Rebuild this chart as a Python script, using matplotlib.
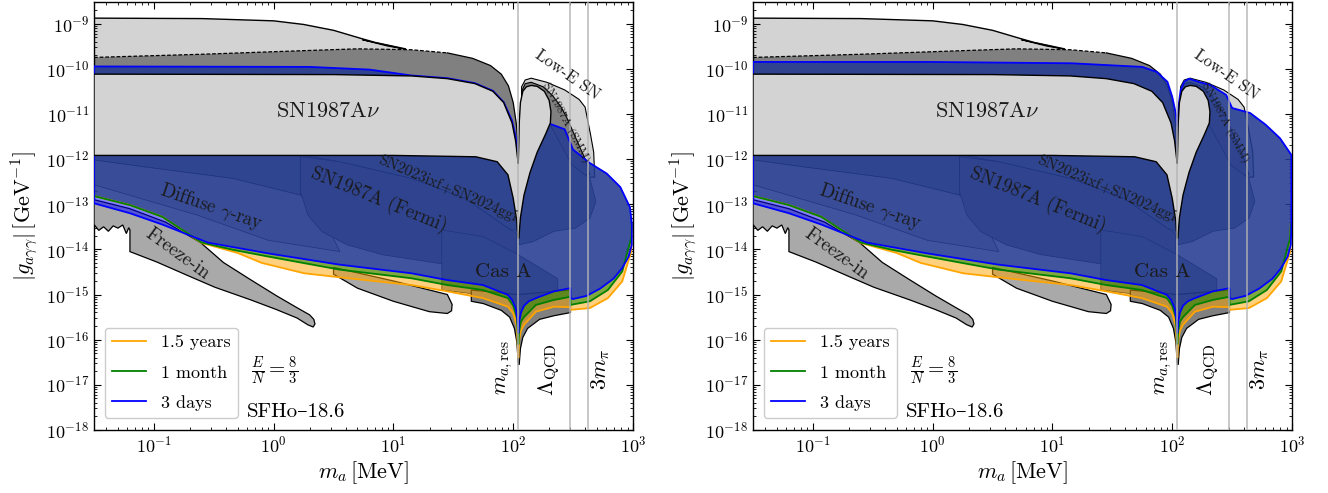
import numpy as np
import matplotlib
matplotlib.use("Agg")
import matplotlib.pyplot as plt
from matplotlib.patches import Polygon
from matplotlib.lines import Line2D
from matplotlib.ticker import LogLocator, NullFormatter

plt.rcParams.update({
    "mathtext.fontset": "cm",
    "font.family": ["cmr10", "DejaVu Serif"],
    "axes.formatter.use_mathtext": True,
    "axes.unicode_minus": False,
})

# ---------------- data (log10 m_a [MeV], log10 g [GeV^-1]) ----------------
# upper light-gray bound
top_lx = [-1.5, -0.6, 0.0, 0.25, 0.5, 0.73, 0.85, 1.1, 1.1, -1.5]
top_lg = [-8.88, -8.89, -8.94, -9.02, -9.15, -9.33, -9.42, -9.56, -10.0, -10.0]
sliver_lx = [0.74, 0.9, 1.1, 0.95]
sliver_lg = [-9.36, -9.45, -9.57, -9.5]

# dark-gray band above SN1987A nu
dg_lx = [-1.5, -0.6, 0.25, 0.7, 1.15, 1.45, 1.66, 1.81, 1.9, 1.96, 2.0, 2.025, 2.041]
dg_lg = [-9.75, -9.68, -9.6, -9.56, -9.58, -9.65, -9.77, -9.93, -10.12, -10.38, -10.75, -11.2, -11.7]

# SN1987A nu cooling region (with notch and right lobe)
sn_lx = [-1.5, 0.5, 1.15, 1.45, 1.68, 1.83, 1.92, 1.99, 2.02, 2.035, 2.042,
         2.046, 2.05, 2.06, 2.08, 2.11, 2.15, 2.2, 2.26, 2.3, 2.315, 2.31, 2.27, 2.2,
         2.14, 2.09, 2.06, 2.047,
         2.04, 2.03, 2.0, 1.956, 1.866, 1.687, 1.0, -1.5]
sn_lg = [-10.12, -10.13, -10.16, -10.22, -10.33, -10.5, -10.75, -11.2, -11.6, -11.95, -12.1,
         -11.7, -11.2, -10.75, -10.5, -10.4, -10.37, -10.39, -10.5, -10.7, -10.95, -11.2, -11.45, -11.85,
         -12.3, -12.8, -13.3, -13.75,
         -13.75, -13.38, -12.87, -12.35, -12.06, -11.95, -11.92, -11.92]

# Low-energy SN band
lowe_lx = [2.07, 2.1, 2.15, 2.28, 2.43, 2.55, 2.6, 2.615, 2.645, 2.672, 2.68, 2.3, 2.07]
lowe_lg = [-10.4, -10.25, -10.21, -10.3, -10.47, -10.68, -10.85, -11.05, -11.45, -11.85, -12.4, -12.4, -11.0]

# SN1987A (SMM) band
smm_lx = [2.07, 2.1, 2.15, 2.25, 2.33, 2.4, 2.45, 2.5, 2.55, 2.6, 2.64, 2.3, 2.07]
smm_lg = [-10.5, -10.33, -10.3, -10.4, -10.6, -10.85, -11.1, -11.4, -11.7, -12.0, -12.35, -12.4, -11.2]

# constraints lying underneath the projections
band_lx = [-1.5, 0.225, 0.225, -0.34, -1.09, -1.5]
band_lg = [-11.9, -11.9, -12.8, -12.43, -12.17, -12.02]

diffuse_lx = [-1.5, -1.09, -0.34, 0.225, 0.45, 0.553, -0.044, -0.64, -1.5]
diffuse_lg = [-12.02, -12.17, -12.43, -12.8, -13.5, -14.05, -13.8, -13.24, -12.57]

ixf_lx = [0.225, 2.0, 2.03, 1.956, 1.6, 1.15, 0.553]
ixf_lg = [-11.9, -11.9, -13.6, -13.53, -12.87, -12.43, -12.06]

fermi_lx = [0.225, 0.553, 1.15, 1.6, 1.956, 2.03, 2.03, 1.45, 0.91, 0.613, 0.404, 0.285, 0.225]
fermi_lg = [-11.95, -12.06, -12.43, -12.87, -13.53, -13.65, -14.5, -14.34, -14.12, -13.9, -13.61, -13.24, -12.72]

casa_lx = [1.404, 1.75, 2.03, 2.372, 2.372, 2.03, 1.404]
casa_lg = [-13.57, -13.72, -14.1, -14.65, -14.9, -15.1, -14.9]

lobe2_lx = [2.05, 2.3, 2.49, 2.64, 2.69, 2.64, 2.52, 2.34, 2.165, 2.05]
lobe2_lg = [-11.3, -11.2, -12.13, -12.43, -12.94, -13.31, -13.53, -13.6, -13.83, -13.9]

freeze_lx = [-1.5, -1.46, -1.42, -1.38, -1.34, -1.3, -1.26, -1.23, -1.21, -1.2, -1.2,
             -0.976, -0.7, -0.49, -0.19, 0.02, 0.195, 0.285, 0.33,
             0.345, 0.335, 0.3,
             0.2, 0.025, -0.2, -0.42, -0.61, -0.9, -1.2, -1.5]
freeze_lg = [-13.45, -13.58, -13.5, -13.6, -13.48, -13.53, -13.46, -13.65, -13.52, -13.57, -14.05,
             -14.28, -14.6, -14.84, -15.12, -15.33, -15.52, -15.67, -15.72,
             -15.65, -15.55, -15.45,
             -15.3, -15.03, -14.66, -14.29, -13.85, -13.4, -13.1, -12.9]

blob_lx = [0.5, 0.7, 1.0, 1.3, 1.45, 1.485, 1.49, 1.45, 1.0, 0.5]
blob_lg = [-14.55, -14.86, -15.15, -15.38, -15.42, -15.36, -15.22, -15.0, -14.7, -14.4]

dgb_lx = [1.65, 1.75, 1.9, 1.97, 2.01, 2.03, 2.043, 2.05, 2.06, 2.08, 2.12, 2.22, 2.34, 2.478, 2.478, 2.04, 1.65]
dgb_lg = [-15.15, -15.2, -15.35, -15.5, -15.75, -16.05, -16.55, -16.55, -16.2, -15.95, -15.75, -15.55, -15.47, -15.4, -14.9, -15.0, -14.9]

# projected sensitivity: lower edges (shared by both panels)
blue_low_lx = [2.99, 2.964, 2.908, 2.837, 2.725, 2.612, 2.5, 2.478, 2.477, 2.34, 2.19, 2.13, 2.09,
               2.065, 2.05, 2.043, 2.035, 2.02, 1.99, 1.956, 1.747, 1.45, 1.15, 0.553, -0.044,
               -0.55, -0.93, -1.2, -1.5]
blue_low_lg = [-13.9, -14.16, -14.42, -14.65, -14.87, -15.03, -15.1, -15.08, -14.86, -14.93, -15.08, -15.15, -15.25,
               -15.4, -15.6, -15.85, -15.55, -15.3, -15.12, -15.01, -14.79, -14.68, -14.53, -14.34, -14.09,
               -13.85, -13.45, -13.2, -12.98]

green_low_lx = [-1.5, -1.2, -0.93, -0.6, -0.34, -0.044, 0.553, 1.15, 1.45, 1.747, 1.956, 2.0, 2.03,
                2.043, 2.05, 2.065, 2.09, 2.19, 2.34, 2.477, 2.478, 2.64, 2.79, 2.91, 2.985, 2.99]
green_low_lg = [-12.82, -13.02, -13.28, -13.85, -14.01, -14.16, -14.45, -14.64, -14.79, -14.9, -15.08, -15.25, -15.5,
                -16.1, -15.8, -15.6, -15.5, -15.23, -15.12, -15.05, -15.23, -15.15, -14.9, -14.49, -13.75, -13.44]

orange_low_lx = [-1.5, -1.2, -0.93, -0.6, -0.3, -0.1, 0.255, 0.553, 1.15, 1.45, 1.747, 1.956, 2.0, 2.03,
                 2.043, 2.05, 2.065, 2.09, 2.19, 2.34, 2.477, 2.478, 2.64, 2.79, 2.91, 2.985, 2.99]
orange_low_lg = [-12.82, -13.02, -13.28, -13.86, -14.08, -14.3, -14.53, -14.62, -14.79, -14.93, -15.08, -15.27, -15.42, -15.7,
                 -16.4, -16.0, -15.8, -15.67, -15.38, -15.27, -15.28, -15.34, -15.3, -15.08, -14.71, -14.05, -13.44]

# projected sensitivity: upper edges, one per panel
top_left_lx = [-1.5, 0.3, 0.8, 1.15, 1.45, 1.68, 1.83, 1.92, 1.99, 2.02, 2.041, 2.06, 2.12,
               2.274, 2.429, 2.499, 2.64, 2.78, 2.894, 2.975, 2.99]
top_left_lg = [-9.95, -9.96, -10.02, -10.15, -10.21, -10.32, -10.49, -10.74, -11.15, -11.5, -11.9, -11.9, -11.5,
               -11.19, -11.34, -11.79, -12.09, -12.32, -12.62, -13.07, -13.44]

top_right_lx = [-1.5, -0.03, 1.16, 1.75, 1.87, 1.96, 2.0, 2.03, 2.041, 2.05, 2.07, 2.1, 2.14,
                2.23, 2.32, 2.36, 2.45, 2.5, 2.65, 2.78, 2.9, 2.995, 2.995]
top_right_lg = [-9.85, -9.85, -9.88, -9.96, -10.07, -10.29, -10.62, -10.99, -11.28, -10.9, -10.47, -10.29, -10.22,
                -10.3, -10.36, -10.43, -10.58, -10.87, -10.98, -11.24, -11.54, -11.91, -13.44]

# reference masses [MeV]
m_res, lambda_qcd, three_mpi = 110.0, 300.0, 418.7

legend_labels = ["1.5 years", "1 month", "3 days"]
legend_colors = ["#ffa500", "#008000", "#0000ff"]

# region labels: text, log10 x, log10 y, rotation, fontsize
region_labels = [
    (r"SN1987A$\nu$", 0.45, -10.95, 0, 16),
    ("Diffuse $\\gamma$-ray", -0.52, -13.07, -19, 13.5),
    ("SN1987A (Fermi)", 0.88, -12.9, -22, 13.5),
    ("SN2023ixf+SN2024ggi", 1.448, -12.66, -23, 11),
    ("Cas A", 1.917, -14.5, 0, 15),
    ("Freeze-in", -0.8, -14.1, -36, 13.5),
    ("Low-E SN", 2.45, -10.12, -35, 12),
    ("SN1987A (SMM)", 2.44, -11.2, -62, 8.5),
]


def P(lx, lg):
    return np.column_stack([10.0 ** np.asarray(lx), 10.0 ** np.asarray(lg)])


def add_poly(ax, lx, lg, **kw):
    ax.add_patch(Polygon(P(lx, lg), closed=True, **kw))


def draw_panel(ax, tlx, tlg):
    # top regions
    add_poly(ax, top_lx, top_lg, fc="#d3d3d3", ec="black", lw=1.0, zorder=1)
    add_poly(ax, sliver_lx, sliver_lg, fc="#d3d3d3", ec="black", lw=0.7, zorder=1.1)
    add_poly(ax, dg_lx + [2.046, 2.046, -1.5], dg_lg + [-11.7, -12.5, -12.5],
             fc="#808080", ec="none", zorder=2)
    ax.plot(10.0 ** np.array(dg_lx[:6]), 10.0 ** np.array(dg_lg[:6]), color="black",
            lw=0.9, ls=(0, (3, 1.5)), zorder=2.1)
    ax.plot(10.0 ** np.array(dg_lx[5:]), 10.0 ** np.array(dg_lg[5:]), color="black",
            lw=0.9, zorder=2.1)
    add_poly(ax, lowe_lx, lowe_lg, fc="#d3d3d3", ec="black", lw=0.8, zorder=2.2)
    add_poly(ax, smm_lx, smm_lg, fc="#808080", ec="black", lw=0.8, zorder=2.3)

    # constraints underneath the projections
    add_poly(ax, band_lx, band_lg, fc="#8c8c8c", ec="black", lw=0.5, zorder=2.4)
    add_poly(ax, diffuse_lx, diffuse_lg, fc="#c8c8c8", ec="black", lw=0.5, zorder=2.5)
    add_poly(ax, ixf_lx, ixf_lg, fc="#8c8c8c", ec="black", lw=0.5, zorder=2.5)
    add_poly(ax, fermi_lx, fermi_lg, fc="#808080", ec="black", lw=0.5, zorder=2.6)
    add_poly(ax, casa_lx, casa_lg, fc="#8c8c8c", ec="black", lw=0.5, zorder=2.7)
    add_poly(ax, lobe2_lx, lobe2_lg, fc="#8c8c8c", ec="black", lw=0.5, zorder=2.6)
    add_poly(ax, freeze_lx, freeze_lg, fc="#a9a9a9", ec="black", lw=0.9, zorder=2.8)
    add_poly(ax, blob_lx, blob_lg, fc="#a9a9a9", ec="black", lw=0.9, zorder=2.8)
    add_poly(ax, dgb_lx, dgb_lg, fc="#808080", ec="black", lw=0.9, zorder=2.8)

    # projected sensitivities
    top_back_lx = tlx[::-1]
    top_back_lg = tlg[::-1]
    add_poly(ax, orange_low_lx + top_back_lx, orange_low_lg + top_back_lg,
             fc="#ffa500", alpha=0.5, ec="none", zorder=4)
    add_poly(ax, green_low_lx + top_back_lx, green_low_lg + top_back_lg,
             fc="#008000", alpha=0.5, ec="none", zorder=4.1)
    add_poly(ax, tlx + blue_low_lx, tlg + blue_low_lg,
             fc="#0000ff", alpha=0.5, ec="none", zorder=4.2)
    ax.plot(10.0 ** np.array(orange_low_lx), 10.0 ** np.array(orange_low_lg),
            color="#ffa500", lw=1.3, zorder=4.3)
    ax.plot(10.0 ** np.array(green_low_lx), 10.0 ** np.array(green_low_lg),
            color="#008000", lw=1.3, zorder=4.4)
    bx = np.array(tlx + blue_low_lx + tlx[:1])
    by = np.array(tlg + blue_low_lg + tlg[:1])
    ax.plot(10.0 ** bx, 10.0 ** by, color="#0000ff", lw=1.3, zorder=4.5)

    # SN1987A nu on top
    add_poly(ax, sn_lx, sn_lg, fc="#d3d3d3", ec="black", lw=1.0, zorder=5)

    # reference masses
    for m in (m_res, lambda_qcd, three_mpi):
        ax.axvline(m, color="#b4b4b4", lw=1.2, alpha=0.85, zorder=6)

    for txt, lx, lg, rot, fs in region_labels:
        ax.text(10.0 ** lx, 10.0 ** lg, txt, rotation=rot, rotation_mode="anchor",
                ha="center", va="center", fontsize=fs, color="#1a1a1a", zorder=7)

    ax.text(10.0 ** 1.93, 10.0 ** -16.62, r"$m_{a,\mathrm{res}}$", rotation=90,
            ha="center", va="center", fontsize=16, zorder=7)
    ax.text(10.0 ** 2.30, 10.0 ** -16.66, r"$\Lambda_{\mathrm{QCD}}$", rotation=90,
            ha="center", va="center", fontsize=16, zorder=7)
    ax.text(10.0 ** 2.73, 10.0 ** -16.66, r"$3m_{\pi}$", rotation=90,
            ha="center", va="center", fontsize=16, zorder=7)
    ax.text(10.0 ** -0.19, 10.0 ** -16.69, r"$\frac{E}{N}=\frac{8}{3}$",
            ha="left", va="center", fontsize=15, zorder=7)
    ax.text(10.0 ** -0.225, 10.0 ** -17.61, "SFHo\u201318.6",
            ha="left", va="center", fontsize=15, zorder=7)

    handles = [Line2D([], [], color=c, lw=1.3) for c in legend_colors]
    leg = ax.legend(handles, legend_labels, loc="lower left", bbox_to_anchor=(0.02, 0.028),
                    borderaxespad=0, fontsize=13, handlelength=1.9, frameon=True,
                    fancybox=True, framealpha=1.0, edgecolor="#cccccc", labelspacing=0.8)
    leg.set_zorder(10)

    ax.set_xscale("log")
    ax.set_yscale("log")
    ax.set_xlim(10 ** -1.5, 1e3)
    ax.set_ylim(1e-18, 3e-9)
    ax.yaxis.set_major_locator(LogLocator(base=10, numticks=20))
    ax.yaxis.set_minor_locator(LogLocator(base=10, subs=np.arange(2, 10), numticks=20))
    ax.yaxis.set_minor_formatter(NullFormatter())
    ax.xaxis.set_minor_formatter(NullFormatter())
    ax.tick_params(which="both", direction="in", top=True, right=True, labelsize=13)
    ax.tick_params(which="major", length=5, width=0.8)
    ax.tick_params(which="minor", length=2.5, width=0.6)
    ax.set_xlabel(r"$m_a\,[\mathrm{MeV}]$", fontsize=16, labelpad=3)
    ax.set_ylabel(r"$|g_{a\gamma\gamma}|\,[\mathrm{GeV}^{-1}]$", fontsize=16, labelpad=4)
    for s in ax.spines.values():
        s.set_linewidth(1.0)


fig = plt.figure(figsize=(13.28, 4.93), dpi=100)
ax_left = fig.add_axes([94 / 1328, 63 / 493, 539 / 1328, 428 / 493])
ax_right = fig.add_axes([753 / 1328, 63 / 493, 539 / 1328, 428 / 493])
draw_panel(ax_left, top_left_lx, top_left_lg)
draw_panel(ax_right, top_right_lx, top_right_lg)
fig.savefig("out.png", dpi=100)
